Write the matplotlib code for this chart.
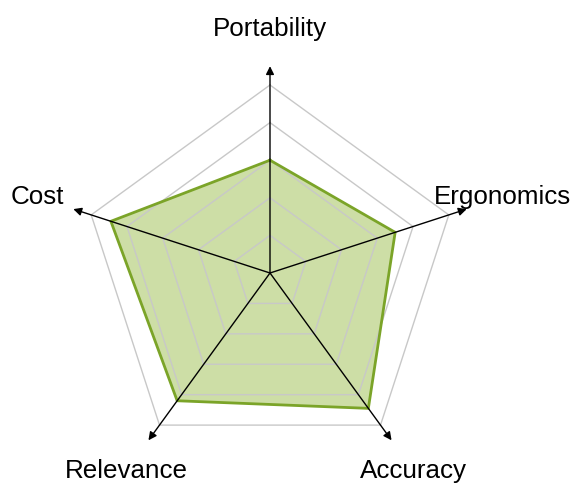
import numpy as np
import matplotlib
matplotlib.use("Agg")
import matplotlib.pyplot as plt

plt.rcParams['font.family'] = ['Liberation Sans', 'DejaVu Sans']

# Criteria and scores (0-5 scale)
categories = ['Portability', 'Cost', 'Relevance', 'Accuracy', 'Ergonomics']
scores = [3.0, 4.45, 4.2, 4.45, 3.5]
rings = [1, 2, 3, 4, 5]
axis_len = 5.5
label_r = 6.5

# angles start at the top and go counter-clockwise
angles = np.deg2rad(90 + 72 * np.arange(len(categories)))

fig = plt.figure(figsize=(5.76, 4.83), dpi=100)
ax = fig.add_axes([0, 0, 1, 1])
px = 37.6  # pixels per unit
ax.set_xlim(-270 / px, (576 - 270) / px)
ax.set_ylim(-(483 - 273) / px, 273 / px)
ax.axis('off')

# score polygon
sx = np.array(scores) * np.cos(angles)
sy = np.array(scores) * np.sin(angles)
ax.fill(sx, sy, color='#9dbf4f', alpha=0.5, lw=0, zorder=1)

# pentagon grid
for r in rings:
    gx = np.append(r * np.cos(angles), r * np.cos(angles[0]))
    gy = np.append(r * np.sin(angles), r * np.sin(angles[0]))
    ax.plot(gx, gy, color='#c8c8c8', lw=1, zorder=2)

ax.plot(np.append(sx, sx[0]), np.append(sy, sy[0]), color='#7ba428', lw=2, zorder=3)

# axes with arrows and labels
for a, name in zip(angles, categories):
    ax.annotate('', xy=(axis_len * np.cos(a), axis_len * np.sin(a)), xytext=(0, 0),
                arrowprops=dict(arrowstyle='-|>', color='black', lw=1,
                                mutation_scale=12, shrinkA=0, shrinkB=0),
                zorder=4)
    ax.text(label_r * np.cos(a), label_r * np.sin(a), name, fontsize=18.7,
            ha='center', va='center')

fig.savefig('out.png', dpi=100)
